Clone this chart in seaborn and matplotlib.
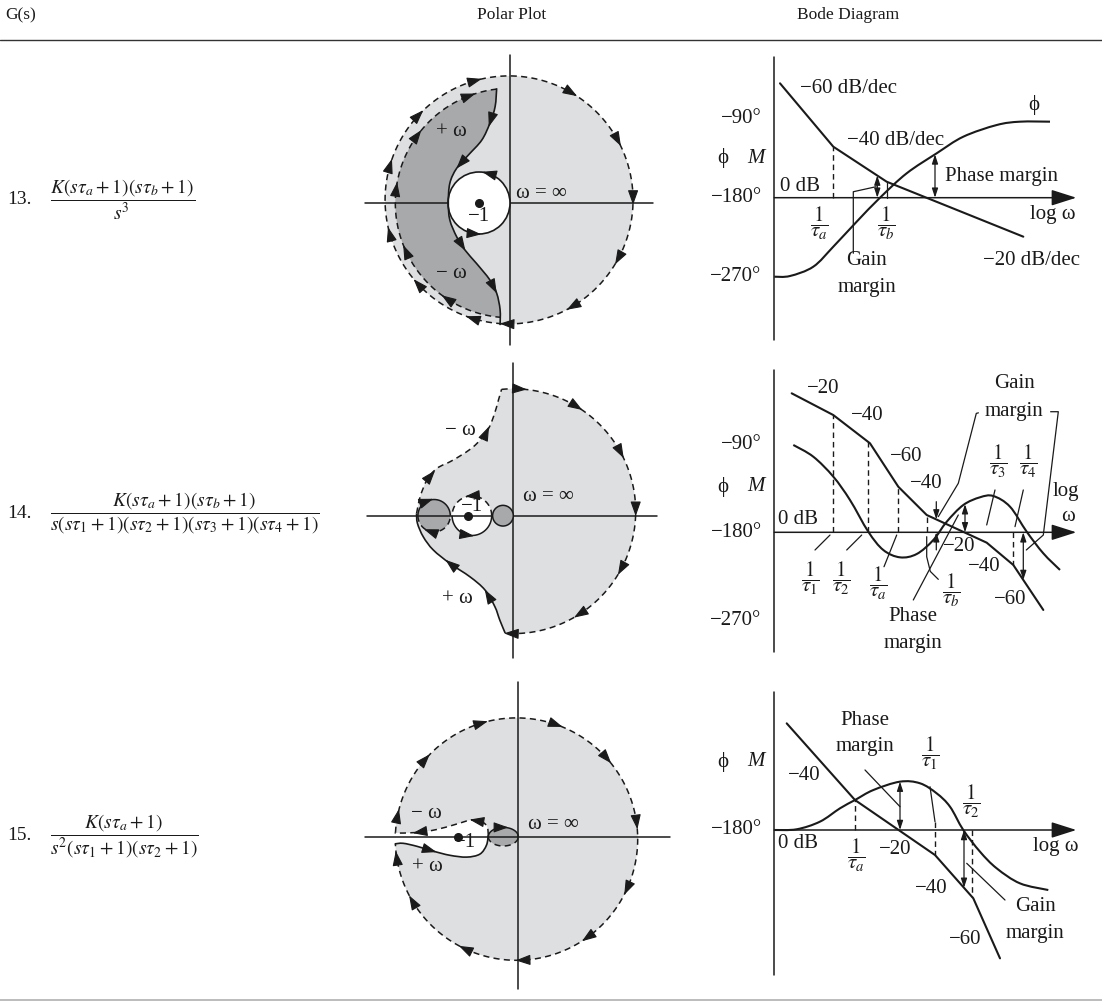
import numpy as np
import matplotlib
matplotlib.use('Agg')
import matplotlib.pyplot as plt
from matplotlib.path import Path
from matplotlib.patches import PathPatch, Circle, Ellipse
from matplotlib.lines import Line2D
import seaborn as sns

sns.set_style('white')
plt.rcParams['font.family'] = ['Liberation Serif', 'DejaVu Serif']
plt.rcParams['mathtext.fontset'] = 'stix'

W, H = 1102, 1006
LIGHT = '#dedfe0'
DARK = '#a8a9ab'
INK = '#1a1a1a'
DASH = (0, (4, 2.8))
FS = 15

# ---------------- polar plots (real / imaginary units, -1 point at x=-1) ----------------
# 13.
outer13_center = (-0.03, 0.10)
outer13_radius = 4.0
inner13_center = (0.0, 0.0)
inner13_radius = 3.7
inner13_arc = (96.6, 265.0)
unit13_center = (-1.0, 0.0)
unit13_radius = 1.0
curve13_x = [-0.43, -0.48, -0.65, -0.91, -1.34, -1.72, -1.94, -1.99, -1.94, -1.72, -1.45, -1.08, -0.65, -0.43, -0.32, -0.32]
curve13_y = [3.70, 3.11, 2.57, 2.03, 1.55, 1.12, 0.64, 0.0, -0.55, -1.09, -1.52, -1.95, -2.48, -2.91, -3.44, -3.94]
outer13_arrows = [105, 59, 28, 0, -29, -60, -92, 136, 163, 195, 222, 252]
inner13_arrows = [110, 143, 172, 204, 236]
curve13_arrows = [0.13, 0.33, 0.66, 0.86]
unit13_arrows = [75, 265]

# 14.
outer14_center = (0.0, 0.10)
outer14_radius = 2.72
outer14_arc = (95.5, -93.5)
outer14_arrows = [86, 58, 28, 0, -29, -58, -92]
minus14_x = [-2.15, -2.07, -1.92, -1.70, -1.33, -0.89, -0.59, -0.44, -0.33, -0.26]
minus14_y = [0.05, 0.42, 0.79, 1.05, 1.24, 1.53, 1.87, 2.20, 2.57, 2.81]
plus14_x = [-0.18, -0.30, -0.41, -0.63, -0.96, -1.41, -1.78, -2.00, -2.13, -2.15]
plus14_y = [-2.61, -2.32, -2.02, -1.65, -1.36, -1.06, -0.76, -0.47, -0.17, 0.05]
minus14_arrows = [0.27, 0.72]
plus14_arrows = [0.28, 0.60]
left14_center, left14_radius = (-1.76, 0.0), 0.36
unit14_center, unit14_radius = (-0.92, 0.0), 0.44
right14_center, right14_radius = (-0.23, 0.0), 0.23

# 15.
outer15_center = (-0.03, -0.04)
outer15_radius = 2.02
outer15_arc = (177.0, -177.7)
outer15_arrows = [106, 70, 41, 7, -25, -55, -88, -116, -150, -172, 168, 138]
plus15_x = [-2.06, -1.92, -1.69, -1.42, -1.14, -0.86, -0.64, -0.53, -0.50]
plus15_y = [-0.12, -0.11, -0.16, -0.24, -0.31, -0.34, -0.29, -0.14, 0.03]
minus15_x = [-0.50, -0.52, -0.61, -0.78, -1.03, -1.36, -1.69, -2.06]
minus15_y = [0.03, 0.17, 0.25, 0.28, 0.21, 0.12, 0.07, 0.06]
plus15_arrows = [0.35]
minus15_arrows = [0.22, 0.78]
blob15_center, blob15_size = (-0.25, 0.0), (0.50, 0.31)

# ---------------- Bode diagrams (x: log w, y: degrees; 0 dB drawn on the -180 line) ----------------
mag13_x = [0.057, 0.59, 1.124, 2.49]
mag13_y = [-49.7, -121.9, -161.8, -224.4]
phase13_x = [0.0, 0.157, 0.39, 0.59, 0.824, 1.057, 1.324, 1.624, 1.89, 2.224, 2.457, 2.757]
phase13_y = [-270, -269.2, -258.6, -235.8, -207.3, -180, -152.2, -129.4, -110.5, -97.2, -93.4, -93.4]
corner13_x = [0.59]
gm13_x, pm13_x = 1.03, 1.607

mag14_x = [0.174, 0.59, 0.957, 1.24, 1.524, 2.124, 2.39, 2.69]
mag14_y = [-37.9, -60.1, -89.0, -133.4, -162.3, -190.6, -213.4, -259.4]
phase14_x = [0.19, 0.39, 0.59, 0.757, 0.94, 1.09, 1.257, 1.424, 1.59, 1.724, 1.89, 2.057, 2.19, 2.357, 2.524, 2.69, 2.857]
phase14_y = [-90.7, -102.7, -123.1, -147, -179.4, -198.1, -205.6, -202.2, -187.9, -169.2, -152.1, -144.2, -142.9, -153.8, -179.4, -201.5, -218.5]
corner14_x = [0.59, 0.94, 1.24, 1.524, 2.39]
gm14_x = [1.62, 2.49]
pm14_x = 1.907

mag15_x = [0.124, 0.807, 1.607, 1.99, 2.257]
mag15_y = [-61.5, -146.7, -207.8, -255.9, -322.6]
phase15_x = [0.0, 0.224, 0.457, 0.657, 0.807, 0.99, 1.257, 1.457, 1.624, 1.757, 1.89, 2.057, 2.224, 2.457, 2.74]
phase15_y = [-180, -179.2, -170.7, -155.9, -146.7, -135.6, -126.3, -128.1, -139.3, -154.1, -180, -204.1, -222.6, -239.3, -246.7]
corner15_x = [0.807, 1.607, 1.974]
gm15_x, pm15_x = 1.897, 1.257

g_labels = ['13.', '14.', '15.']
g_formulas = [
    r'$\dfrac{K\left(s\tau_a+1\right)\left(s\tau_b+1\right)}{s^3}$',
    r'$\dfrac{K\left(s\tau_a+1\right)\left(s\tau_b+1\right)}{s\left(s\tau_1+1\right)\left(s\tau_2+1\right)\left(s\tau_3+1\right)\left(s\tau_4+1\right)}$',
    r'$\dfrac{K\left(s\tau_a+1\right)}{s^2\left(s\tau_1+1\right)\left(s\tau_2+1\right)}$',
]
g_rows_y = [200, 513, 836]


def panel(fig, px0, py0, y0, sx, sy, xlim, ylim):
    # place an axes so that data point (0, y0) sits on pixel (px0, py0)
    left = px0 + xlim[0] * sx
    right = px0 + xlim[1] * sx
    top = py0 - (ylim[1] - y0) * sy
    bottom = py0 - (ylim[0] - y0) * sy
    ax = fig.add_axes([left / W, 1 - bottom / H, (right - left) / W, (bottom - top) / H])
    ax.set_xlim(xlim)
    ax.set_ylim(ylim)
    ax.axis('off')
    return ax


def cr_verts(xs, ys):
    p = np.column_stack([xs, ys]).astype(float)
    n = len(p)
    verts, codes = [p[0]], [Path.MOVETO]
    for i in range(n - 1):
        a = p[i - 1] if i > 0 else p[i]
        d = p[i + 2] if i + 2 < n else p[i + 1]
        verts += [p[i] + (p[i + 1] - a) / 6, p[i + 1] - (d - p[i]) / 6, p[i + 1]]
        codes += [Path.CURVE4] * 3
    return verts, codes


def arc_verts(c, r, a0, a1, n=180):
    th = np.radians(np.linspace(a0, a1, n))
    v = np.column_stack([c[0] + r * np.cos(th), c[1] + r * np.sin(th)])
    return list(v), [Path.MOVETO] + [Path.LINETO] * (n - 1)


def fill_region(ax, pieces, color, z=1):
    verts, codes = [], []
    for v, c in pieces:
        c = list(c)
        if verts:
            c[0] = Path.LINETO
        verts += list(v)
        codes += c
    verts.append(verts[0])
    codes.append(Path.CLOSEPOLY)
    ax.add_patch(PathPatch(Path(verts, codes), fc=color, ec='none', lw=0, zorder=z))


def stroke(ax, piece, dashed=False, lw=1.2, z=3):
    v, c = piece
    ax.add_patch(PathPatch(Path(v, c), fill=False, ec=INK, lw=lw,
                           ls=DASH if dashed else '-', zorder=z))


def head(ax, x, y, dx, dy, size=10):
    p0 = ax.transData.transform((x, y))
    p1 = ax.transData.transform((x + dx * 1e-3, y + dy * 1e-3))
    u = (p1 - p0) / np.hypot(*(p1 - p0))
    tip = ax.transData.inverted().transform(p0 + u * 5)
    ax.annotate('', xy=tip, xytext=(-u[0] * 3, -u[1] * 3), textcoords='offset points',
                arrowprops=dict(arrowstyle='-|>,head_length=0.9,head_width=0.32', color=INK,
                                lw=0.8, shrinkA=0, shrinkB=0, mutation_scale=size), zorder=6)


def curve_heads(ax, xs, ys, fracs):
    p = np.column_stack([xs, ys])
    seg = np.hypot(*np.diff(p, axis=0).T)
    cum = np.concatenate([[0], np.cumsum(seg)])
    for f in fracs:
        s = f * cum[-1]
        i = min(max(np.searchsorted(cum, s) - 1, 0), len(seg) - 1)
        t = (s - cum[i]) / seg[i]
        q = p[i] + t * (p[i + 1] - p[i])
        d = p[i + 1] - p[i]
        head(ax, q[0], q[1], d[0], d[1])


def circle_heads(ax, c, r, angles, cw=True):
    for a in np.radians(angles):
        x, y = c[0] + r * np.cos(a), c[1] + r * np.sin(a)
        if cw:
            head(ax, x, y, np.sin(a), -np.cos(a))
        else:
            head(ax, x, y, -np.sin(a), np.cos(a))


def cross(ax, xr, yr):
    ax.plot(xr, [0, 0], color=INK, lw=1.1, zorder=2)
    ax.plot([0, 0], yr, color=INK, lw=1.1, zorder=2)


def txt(ax, x, y, s, ha='center', **kw):
    ax.text(x, y, s, ha=ha, va='center', fontsize=FS, color=INK, zorder=7, **kw)


def dbl_arrow(ax, x, y0, y1, style='<|-|>'):
    ax.annotate('', xy=(x, y1), xytext=(x, y0),
                arrowprops=dict(arrowstyle=style + ',head_length=0.55,head_width=0.18', color=INK,
                                lw=0.9, shrinkA=0, shrinkB=0, mutation_scale=10), zorder=5)


def leader(ax, xs, ys):
    ax.plot(xs, ys, color=INK, lw=0.9, zorder=4)


def bode_frame(ax, ytop, ybot, ticks, phi_y):
    ax.plot([0, 0], [ytop, ybot], color=INK, lw=1.1)
    ax.annotate('', xy=(3.02, -180), xytext=(0, -180),
                arrowprops=dict(arrowstyle='-|>,head_length=1.1,head_width=0.35', color=INK,
                                lw=1.1, shrinkA=0, shrinkB=0, mutation_scale=14))
    for t in ticks:
        txt(ax, -0.126, t, '\u2212%d\u00b0' % abs(t), ha='right')
    txt(ax, -0.52, phi_y, '\u03d5')
    txt(ax, -0.18, phi_y, 'M', style='italic')


def bode_curves(ax, mx, my, px, py, corners, top=None):
    sns.lineplot(x=mx, y=my, ax=ax, color=INK, lw=1.5, sort=False, zorder=3)
    stroke(ax, cr_verts(px, py), lw=1.5)
    for k, c in enumerate(corners):
        m = np.interp(c, mx, my)
        y0 = -180 if top is None or top[k] is None else top[k]
        ax.plot([c, c], [y0, m], color=INK, lw=1.0, ls=DASH, zorder=2)


fig = plt.figure(figsize=(W / 100, H / 100), dpi=100)

# header and rules
fig.text(5 / W, 1 - 15 / H, 'G(s)', fontsize=12.5, va='center', ha='left', color=INK)
fig.text(512 / W, 1 - 15 / H, 'Polar Plot', fontsize=12.5, va='center', ha='center', color=INK)
fig.text(848 / W, 1 - 15 / H, 'Bode Diagram', fontsize=12.5, va='center', ha='center', color=INK)
fig.add_artist(Line2D([0, 1], [1 - 40 / H] * 2, color='#333333', lw=1.0))
fig.add_artist(Line2D([0, 1], [1 - 1000 / H] * 2, color='#b0b0b0', lw=1.2))

for lab, frm, gy in zip(g_labels, g_formulas, g_rows_y):
    fig.text(7 / W, 1 - gy / H, lab, fontsize=14, va='center', ha='left', color=INK)
    fig.text(50 / W, 1 - gy / H, frm, fontsize=14, va='center', ha='left', color=INK)

# ---------- polar 13 ----------
ax = panel(fig, 510, 203, 0, 31, 31, (-5, 5), (-5, 5))
ax.add_patch(Circle(outer13_center, outer13_radius, fc=LIGHT, ec='none', zorder=1))
arc = arc_verts(inner13_center, inner13_radius, *inner13_arc)
fill_region(ax, [arc, cr_verts(curve13_x[-2::-1], curve13_y[-2::-1])], DARK, z=1.2)
ax.add_patch(Circle(unit13_center, unit13_radius, fc='white', ec=INK, lw=1.2, zorder=2.5))
cross(ax, [-4.68, 4.62], [-4.58, 4.77])
stroke(ax, arc_verts(outer13_center, outer13_radius, 0, 360, 300), dashed=True, lw=1.1)
stroke(ax, arc, dashed=True, lw=1.1)
stroke(ax, cr_verts(curve13_x, curve13_y), lw=1.2)
circle_heads(ax, outer13_center, outer13_radius, outer13_arrows)
circle_heads(ax, inner13_center, inner13_radius, inner13_arrows)
circle_heads(ax, unit13_center, unit13_radius, unit13_arrows, cw=False)
curve_heads(ax, curve13_x, curve13_y, curve13_arrows)
ax.plot(*unit13_center, 'o', color=INK, ms=5.5, zorder=6)
txt(ax, -1.0, -0.45, '\u22121')
txt(ax, 0.2, 0.32, '\u03c9 = \u221e', ha='left')
txt(ax, -1.9, 2.3, '+ \u03c9')
txt(ax, -1.9, -2.27, '\u2212 \u03c9')

# ---------- polar 14 ----------
ax = panel(fig, 513.3, 515.7, 0, 45, 45, (-3.5, 3.5), (-3.5, 3.5))
arc = arc_verts(outer14_center, outer14_radius, *outer14_arc)
fill_region(ax, [arc, cr_verts(plus14_x, plus14_y), cr_verts(minus14_x, minus14_y)], LIGHT)
ax.add_patch(Circle(left14_center, left14_radius, fc=DARK, ec='none', zorder=1.5))
ax.add_patch(Circle(unit14_center, unit14_radius, fc='white', ec='none', zorder=1.5))
ax.add_patch(Circle(right14_center, right14_radius, fc=DARK, ec=INK, lw=1.1, zorder=2.5))
cross(ax, [-3.26, 3.19], [-3.17, 3.39])
stroke(ax, arc, dashed=True, lw=1.1)
stroke(ax, cr_verts(minus14_x, minus14_y), dashed=True, lw=1.1)
stroke(ax, cr_verts(plus14_x, plus14_y), lw=1.2)
stroke(ax, arc_verts(left14_center, left14_radius, 0, 180), lw=1.1)
stroke(ax, arc_verts(left14_center, left14_radius, 180, 360), dashed=True, lw=1.1)
stroke(ax, arc_verts(unit14_center, unit14_radius, 0, 180), dashed=True, lw=1.1)
stroke(ax, arc_verts(unit14_center, unit14_radius, 180, 360), lw=1.1)
circle_heads(ax, outer14_center, outer14_radius, outer14_arrows)
circle_heads(ax, left14_center, left14_radius, [110, 250])
circle_heads(ax, unit14_center, unit14_radius, [95, 262], cw=False)
curve_heads(ax, minus14_x, minus14_y, minus14_arrows)
curve_heads(ax, plus14_x, plus14_y, plus14_arrows)
ax.plot(-1.0, 0.0, 'o', color=INK, ms=5.5, zorder=6)
txt(ax, -0.92, 0.2, '\u22121')
txt(ax, 0.22, 0.42, '\u03c9 = \u221e', ha='left')
txt(ax, -1.18, 1.9, '\u2212 \u03c9')
txt(ax, -1.24, -1.84, '+ \u03c9')

# ---------- polar 15 ----------
ax = panel(fig, 518.3, 836.7, 0, 60, 60, (-2.7, 2.7), (-2.7, 2.7))
arc = arc_verts(outer15_center, outer15_radius, *outer15_arc)
fill_region(ax, [arc, cr_verts(plus15_x, plus15_y), cr_verts(minus15_x, minus15_y)], LIGHT)
ax.add_patch(Ellipse(blob15_center, *blob15_size, fc=DARK, ec='none', zorder=1.5))
cross(ax, [-2.56, 2.53], [-2.53, 2.58])
stroke(ax, arc, dashed=True, lw=1.1)
stroke(ax, cr_verts(plus15_x, plus15_y), lw=1.2)
stroke(ax, cr_verts(minus15_x, minus15_y), dashed=True, lw=1.1)
th = np.radians(np.linspace(0, 180, 60))
stroke(ax, (list(np.column_stack([blob15_center[0] + blob15_size[0] / 2 * np.cos(th),
                                  blob15_center[1] + blob15_size[1] / 2 * np.sin(th)])),
            [Path.MOVETO] + [Path.LINETO] * 59), lw=1.1)
stroke(ax, (list(np.column_stack([blob15_center[0] + blob15_size[0] / 2 * np.cos(th + np.pi),
                                  blob15_center[1] + blob15_size[1] / 2 * np.sin(th + np.pi)])),
            [Path.MOVETO] + [Path.LINETO] * 59), dashed=True, lw=1.1)
head(ax, blob15_center[0], blob15_size[1] / 2, 1, 0)
circle_heads(ax, outer15_center, outer15_radius, outer15_arrows)
curve_heads(ax, plus15_x, plus15_y, plus15_arrows)
curve_heads(ax, minus15_x, minus15_y, minus15_arrows)
ax.plot(-1.0, 0.0, 'o', color=INK, ms=5.5, zorder=6)
txt(ax, -0.88, -0.1, '\u22121')
txt(ax, 0.17, 0.2, '\u03c9 = \u221e', ha='left')
txt(ax, -1.54, 0.39, '\u2212 \u03c9')
txt(ax, -1.52, -0.5, '+ \u03c9')

# ---------- Bode 13 ----------
ax = panel(fig, 774.3, 197.7, -180, 100, 0.8778, (-0.95, 3.25), (-350, -10))
bode_frame(ax, -19.4, -342, [-90, -180, -270], -135)
bode_curves(ax, mag13_x, mag13_y, phase13_x, phase13_y, corner13_x)
leader(ax, [1.124, 1.124], [-180, np.interp(1.124, mag13_x, mag13_y)])
dbl_arrow(ax, gm13_x, -180, np.interp(gm13_x, mag13_x, mag13_y))
dbl_arrow(ax, pm13_x, -180, np.interp(pm13_x, phase13_x, phase13_y))
leader(ax, [0.79, 0.79, 1.017], [-243.3, -173.2, -167.5])
txt(ax, 0.257, -55.4, '\u221260 dB/dec', ha='left')
txt(ax, 0.724, -114.3, '\u221240 dB/dec', ha='left')
txt(ax, 2.09, -251, '\u221220 dB/dec', ha='left')
txt(ax, 2.59, -74.4, '\u03d5')
txt(ax, 1.707, -156.1, 'Phase margin', ha='left')
txt(ax, 0.057, -167.5, '0 dB', ha='left')
txt(ax, 2.557, -199.7, 'log \u03c9', ha='left')
txt(ax, 0.45, -209.2, r'$\dfrac{1}{\tau_a}$')
txt(ax, 1.124, -209.2, r'$\dfrac{1}{\tau_b}$')
txt(ax, 0.924, -251, 'Gain')
txt(ax, 0.924, -282, 'margin')

# ---------- Bode 14 ----------
ax = panel(fig, 774.3, 532.3, -180, 100, 0.978, (-0.95, 3.25), (-310, -5))
bode_frame(ax, -14, -302, [-90, -180, -270], -133.4)
bode_curves(ax, mag14_x, mag14_y, phase14_x, phase14_y, corner14_x)
dbl_arrow(ax, pm14_x, -180, np.interp(pm14_x, phase14_x, phase14_y))
dbl_arrow(ax, gm14_x[1], -180, np.interp(gm14_x[1], mag14_x, mag14_y))
dbl_arrow(ax, gm14_x[0], -148.7, np.interp(gm14_x[0], mag14_x, mag14_y), style='-|>')
dbl_arrow(ax, gm14_x[0], -198, -180, style='-|>')
leader(ax, [0.407, 0.557], [-198.1, -182.8])
leader(ax, [0.724, 0.874], [-198.1, -182.8])
leader(ax, [1.097, 1.224], [-215.2, -182.8])
leader(ax, [1.524, 1.524, 1.56, 1.64], [-184.5, -205, -220, -228.1])
leader(ax, [2.124, 2.207], [-172.5, -136.7])
leader(ax, [2.407, 2.49], [-174.2, -136.7])
leader(ax, [2.09, 2.02, 1.84, 1.64], [-56.7, -58.4, -129.9, -164])
leader(ax, [2.72, 2.84, 2.69, 2.52], [-56.7, -56.7, -182.8, -198.1])
leader(ax, [1.39, 1.84], [-249.2, -162.3])
txt(ax, 0.49, -32.8, '\u221220')
txt(ax, 0.93, -60.1, '\u221240')
txt(ax, 1.32, -102, '\u221260')
txt(ax, 1.515, -129.9, '\u221240')
txt(ax, 1.85, -194.7, '\u221220')
txt(ax, 2.1, -215.2, '\u221240')
txt(ax, 2.36, -249.2, '\u221260')
txt(ax, 2.4, -27.6, 'Gain')
txt(ax, 2.4, -56.7, 'margin', backgroundcolor='white')
txt(ax, 2.24, -107.8, r'$\dfrac{1}{\tau_3}$')
txt(ax, 2.54, -107.8, r'$\dfrac{1}{\tau_4}$')
txt(ax, 2.92, -138.5, 'log')
txt(ax, 2.94, -164, '\u03c9')
txt(ax, 0.04, -167.4, '0 dB', ha='left')
txt(ax, 0.357, -227, r'$\dfrac{1}{\tau_1}$')
txt(ax, 0.674, -227, r'$\dfrac{1}{\tau_2}$')
txt(ax, 1.04, -232, r'$\dfrac{1}{\tau_a}$')
txt(ax, 1.77, -239, r'$\dfrac{1}{\tau_b}$')
txt(ax, 1.39, -266.3, 'Phase')
txt(ax, 1.39, -293.5, 'margin')

# ---------- Bode 15 ----------
ax = panel(fig, 774.3, 830, -180, 100, 0.9, (-0.95, 3.25), (-345, -20))
bode_frame(ax, -26.3, -341, [-180], -104.1)
bode_curves(ax, mag15_x, mag15_y, phase15_x, phase15_y, corner15_x, top=[None, -170.8, None])
dbl_arrow(ax, pm15_x, -180, np.interp(pm15_x, phase15_x, phase15_y))
dbl_arrow(ax, gm15_x, -180, np.interp(gm15_x, mag15_x, mag15_y))
leader(ax, [0.907, 1.257], [-113.3, -154.1])
leader(ax, [1.557, 1.607], [-131.9, -170.8])
leader(ax, [2.307, 1.924], [-257.8, -217])
txt(ax, 0.907, -57.8, 'Phase')
txt(ax, 0.907, -87.4, 'margin')
txt(ax, 1.557, -94.8, r'$\dfrac{1}{\tau_1}$')
txt(ax, 1.974, -148.6, r'$\dfrac{1}{\tau_2}$')
txt(ax, 0.297, -118.9, '\u221240')
txt(ax, 0.04, -194.8, '0 dB', ha='left')
txt(ax, 0.824, -207.8, r'$\dfrac{1}{\tau_a}$')
txt(ax, 1.207, -202.2, '\u221220')
txt(ax, 2.59, -198.5, 'log \u03c9', ha='left')
txt(ax, 1.574, -244.8, '\u221240')
txt(ax, 2.607, -265.2, 'Gain')
txt(ax, 2.607, -294.8, 'margin')
txt(ax, 1.907, -302.2, '\u221260')

fig.savefig('out.png', dpi=100)
